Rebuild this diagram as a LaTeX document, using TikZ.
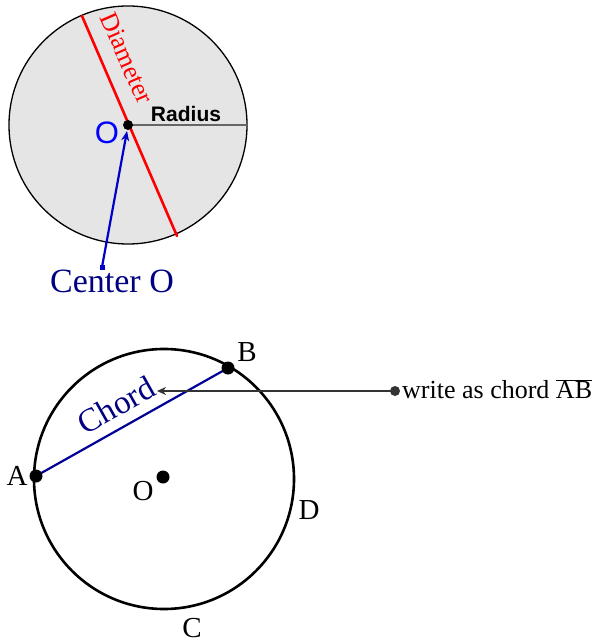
\documentclass[tikz,border=0pt]{standalone}
\usepackage{fontspec}
\setmainfont{Liberation Serif}
\newfontfamily\labelsans{Liberation Sans}
\usetikzlibrary{arrows.meta}
\definecolor{navyblue}{RGB}{0,0,128}
\definecolor{chordblue}{RGB}{0,0,150}
\definecolor{pointerblue}{RGB}{0,0,200}

\begin{document}
\begin{tikzpicture}[x=1pt, y=-1pt, line cap=round,
    dot/.style={fill=black},
    ptlabel/.style={font=\fontsize{29}{32}\selectfont}]
  \useasboundingbox (0,0) rectangle (597,644);
  % upper circle: centre, radius, diameter
  \coordinate (O1) at (128,125);
  \coordinate (R1) at (247,125);
  \coordinate (D1) at (82,16);
  \coordinate (D2) at (177,236);
  \filldraw[fill=black!10, draw=black, line width=1.3pt] (O1) circle (119);
  \draw[black!60, line width=1.3pt] (O1) -- (R1);
  \draw[red, line width=2.6pt] (D1) -- (D2);
  \fill[dot] (O1) circle (5);
  \node[red, rotate=-66.4, font=\fontsize{26}{30}\selectfont] (diam) at (127,58) {Diameter};
  \node[font=\labelsans\bfseries\fontsize{21}{24}\selectfont] (rad) at (186,114) {Radius};
  \node[blue, font=\labelsans\fontsize{31}{34}\selectfont] (olab) at (107,133) {O};
  % pointer to the centre
  \coordinate (P1) at (102,267);
  \fill[pointerblue] (P1) ++(-2.5,-2.5) rectangle ++(5,5);
  \draw[-{Stealth[length=10pt,width=8pt]}, pointerblue, line width=2.2pt] (P1) -- (127,131);
  \node[navyblue, font=\fontsize{34}{38}\selectfont] (cen) at (112,281) {Center O};
  % lower circle with a chord
  \coordinate (O2) at (164,479);
  \coordinate (A) at (36,476);
  \coordinate (B) at (228,368);
  \draw[line width=2.6pt] (O2) circle (130);
  \draw[chordblue, line width=2.2pt] (A) -- (B);
  \fill[dot] (A) circle (6.5);
  \fill[dot] (B) circle (6.5);
  \fill[dot] (163,477) circle (6.5);
  \node[navyblue, rotate=29.4, font=\fontsize{33}{36}\selectfont] (chd) at (116,405) {Chord};
  \node[ptlabel] (la) at (17,476) {A};
  \node[ptlabel] (lb) at (247,352) {B};
  \node[ptlabel] (lo) at (143,491) {O};
  \node[ptlabel] (ld) at (309,510) {D};
  \node[ptlabel] (lc) at (192,628) {C};
  % note on the chord
  \coordinate (N) at (395,391);
  \coordinate (T) at (157,391);
  \fill[black!80] (N) circle (5);
  \draw[-{Stealth[length=9pt,width=8pt]}, black!80, line width=1.8pt] (N) -- (T);
  \node[anchor=west, inner sep=0pt, font=\fontsize{26}{29}\selectfont] (note) at (402,389)
    {write as chord $\overline{\hbox{AB}}$};
\end{tikzpicture}
\end{document}
